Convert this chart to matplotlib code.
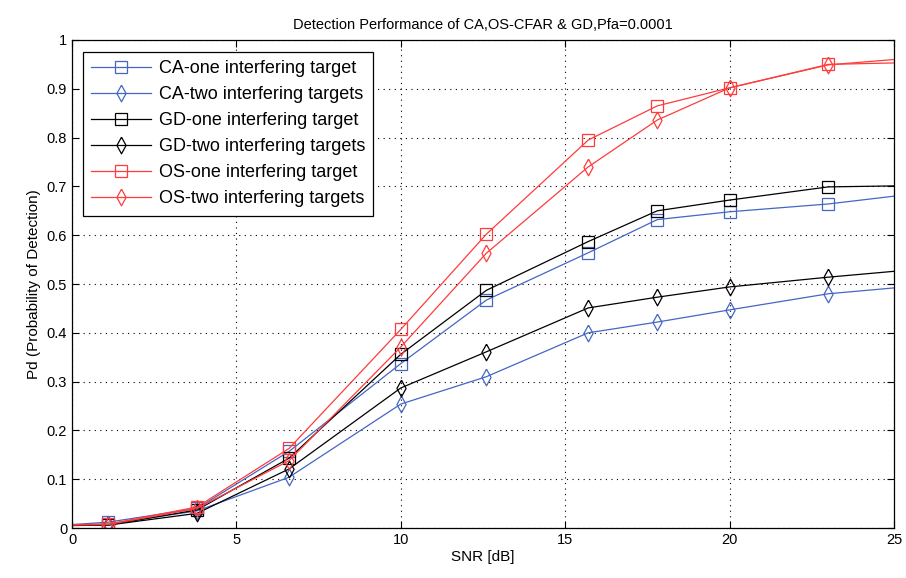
import matplotlib
matplotlib.use("Agg")
import matplotlib.pyplot as plt

snr = [0, 1.1, 3.8, 6.6, 10, 12.6, 15.7, 17.8, 20, 23, 25]

ca_one = [0.007, 0.012, 0.040, 0.157, 0.337, 0.467, 0.564, 0.632, 0.648, 0.664, 0.680]
ca_two = [0.006, 0.008, 0.035, 0.104, 0.254, 0.310, 0.400, 0.422, 0.447, 0.480, 0.492]
gd_one = [0.006, 0.006, 0.037, 0.143, 0.356, 0.487, 0.587, 0.650, 0.672, 0.699, 0.701]
gd_two = [0.005, 0.006, 0.030, 0.121, 0.287, 0.361, 0.451, 0.473, 0.494, 0.514, 0.526]
os_one = [0.007, 0.008, 0.043, 0.163, 0.407, 0.602, 0.795, 0.865, 0.902, 0.950, 0.953]
os_two = [0.006, 0.007, 0.040, 0.138, 0.371, 0.563, 0.740, 0.836, 0.902, 0.949, 0.960]

labels = ["CA-one interfering target", "CA-two interfering targets",
          "GD-one interfering target", "GD-two interfering targets",
          "OS-one interfering target", "OS-two interfering targets"]

# thin matlab-like diamond
diamond = [(0, 1), (0.55, 0), (0, -1), (-0.55, 0), (0, 1)]

blue = "#4466c4"
red = "#ff3b3b"
series = [(ca_one, blue, "s", 9), (ca_two, blue, diamond, 12),
          (gd_one, "black", "s", 9), (gd_two, "black", diamond, 12),
          (os_one, red, "s", 9), (os_two, red, diamond, 12)]

plt.rcParams["font.family"] = ["Liberation Sans", "DejaVu Sans"]

fig = plt.figure(figsize=(9.06, 5.78), dpi=100)
ax = fig.add_axes([0.0795, 0.0865, 0.9073, 0.8443])

for (vals, col, mk, ms), lab in zip(series, labels):
    ax.plot(snr, vals, color=col, marker=mk, markevery=list(range(1, len(snr) - 1)),
            markersize=ms, markerfacecolor="none", markeredgecolor=col,
            markeredgewidth=0.9, linewidth=0.9, label=lab)

ax.set_xlim(0, 25)
ax.set_ylim(0, 1)
ax.set_xticks([0, 5, 10, 15, 20, 25])
ax.set_yticks([i / 10 for i in range(11)])
ax.set_yticklabels(["0", "0.1", "0.2", "0.3", "0.4", "0.5", "0.6", "0.7", "0.8", "0.9", "1"])
ax.tick_params(direction="in", top=True, right=True, labelsize=10.5, length=5)
ax.grid(True, color="black", linestyle=(0, (1, 4)), linewidth=0.8)
for s in ax.spines.values():
    s.set_linewidth(0.9)

ax.set_xlabel("SNR [dB]", fontsize=11, labelpad=2)
ax.set_ylabel("Pd (Probability of Detection)", fontsize=11)
ax.set_title("Detection Performance of CA,OS-CFAR & GD,Pfa=0.0001", fontsize=10.5, pad=8)

leg = ax.legend(loc="upper left", bbox_to_anchor=(0.0134, 0.975), borderaxespad=0,
                fontsize=13, fancybox=False, edgecolor="black", framealpha=1,
                borderpad=0.45, labelspacing=0.5, handlelength=3.3, handletextpad=0.45)
leg.get_frame().set_linewidth(0.9)

fig.savefig("out.png", dpi=100)
